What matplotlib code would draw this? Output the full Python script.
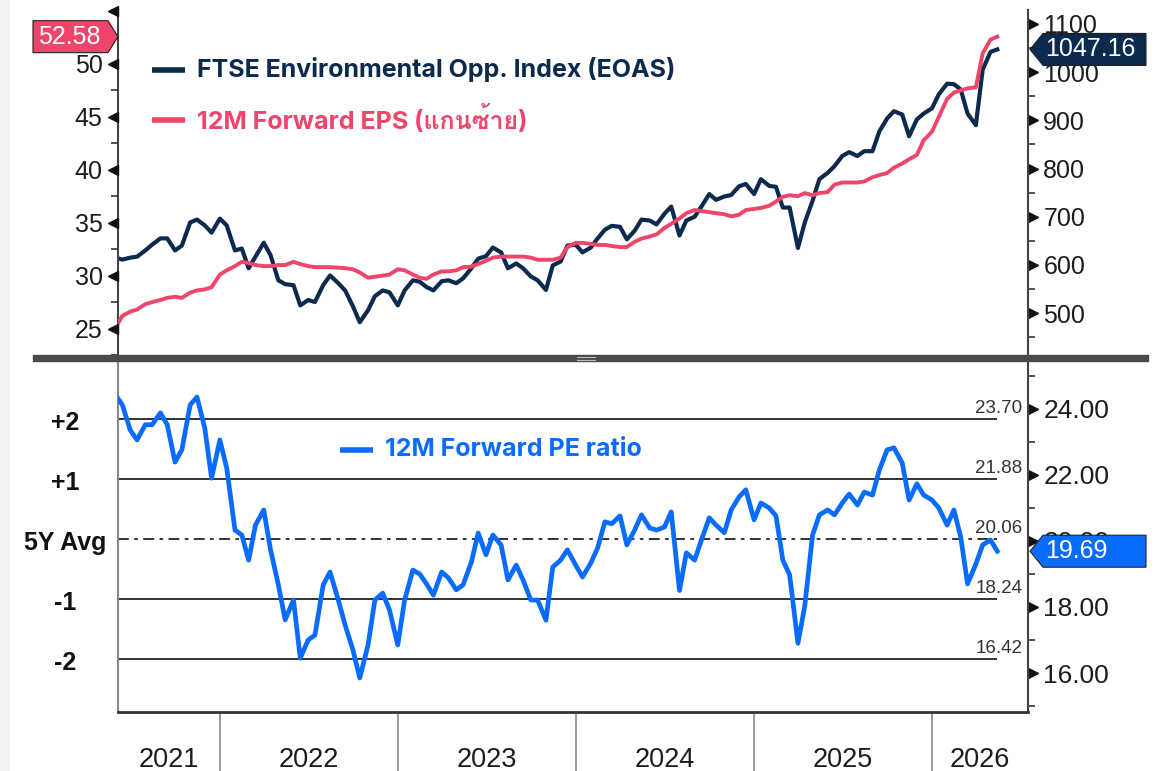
import matplotlib
matplotlib.use("Agg")
import matplotlib.pyplot as plt
import matplotlib.dates as mdates
import matplotlib.transforms as mtransforms
from matplotlib import font_manager
from matplotlib.ft2font import FT2Font
from matplotlib.lines import Line2D
from matplotlib.patches import Polygon, Rectangle
import pandas as pd

# semi-monthly readings, Jun 2021 .. May 2026
dates = pd.date_range("2021-06-01", "2026-05-15", freq="SMS")

index_vals = [
    615, 611, 615, 617, 630, 642, 655, 655, 630, 640,
    688, 694, 682, 667, 696, 682, 630, 634, 593, 617,
    646, 620, 568, 560, 558, 516, 527, 523, 558, 578,
    562, 547, 514, 481, 506, 535, 547, 543, 516, 547,
    568, 565, 554,
    547, 566, 568, 562, 572, 593, 613, 618, 636, 626,
    593, 603, 593, 576, 568, 548, 599, 607, 640, 642,
    626, 636, 655, 673, 681, 679, 653, 671, 694, 692,
    684, 706, 721, 661, 692, 700, 721, 747, 735, 742,
    745, 763, 768, 747, 778, 764, 762, 719, 719, 635,
    688, 733, 778, 791, 805, 826, 834, 826, 836, 836,
    877, 904, 919, 912, 867, 902, 914, 925, 954, 976,
    975, 964, 914, 890, 1005, 1042, 1047.16,
]

eps_vals = [
    25.1, 26.2, 26.6, 26.8, 27.3, 27.5, 27.7, 27.9, 28.0, 27.9,
    28.4, 28.6, 28.7, 28.9, 30.1, 30.5, 30.9, 31.3, 31.2, 31.0,
    30.9, 30.9, 31.0, 31.0, 31.3, 31.1, 30.9, 30.8, 30.8, 30.8,
    30.75, 30.7, 30.6, 30.3, 29.8, 29.9, 30.0, 30.1, 30.6, 30.5,
    30.1, 29.8, 29.7,
    30.1, 30.4, 30.4, 30.5, 30.8, 30.85, 31.1, 31.4, 31.7, 31.8,
    31.8, 31.8, 31.8, 31.7, 31.5, 31.5, 31.5, 31.7, 32.7, 33.1,
    33.1, 33.0, 32.9, 32.9, 32.8, 32.7, 32.7, 33.2, 33.5, 33.7,
    33.9, 34.5, 34.9, 35.4, 35.9, 36.2, 36.1, 36.0, 35.9, 35.8,
    35.6, 35.75, 36.2, 36.3, 36.4, 36.6, 37.0, 37.45, 37.6, 37.5,
    37.8, 37.6, 37.8, 37.9, 38.6, 38.8, 38.8, 38.8, 38.9, 39.3,
    39.5, 39.7, 40.2, 40.6, 41.0, 41.4, 42.8, 43.6, 45.0, 46.7,
    47.3, 47.5, 47.7, 47.8, 51.0, 52.3, 52.58,
]

pe_vals = [
    24.42, 24.12, 23.36, 23.06, 23.52, 23.52, 23.88, 23.52, 22.39, 22.76,
    24.12, 24.36, 23.42, 21.9, 23.06, 22.21, 20.33, 20.18, 19.42, 20.48,
    20.94, 19.73, 18.67, 17.61, 18.21, 16.45, 17.0, 17.15, 18.67, 19.06,
    18.21, 17.45, 16.70, 15.85, 16.85, 18.21, 18.42, 17.91, 16.85, 18.21,
    19.12, 19.0, 18.7,
    18.36, 19.06, 18.88, 18.52, 18.67, 19.36, 20.24, 19.58, 20.18, 19.88,
    18.82, 19.27, 18.82, 18.21, 18.21, 17.6, 19.21, 19.42, 19.73, 19.27,
    18.91, 19.33, 19.79, 20.58, 20.52, 20.76, 19.88, 20.33, 20.79, 20.39,
    20.33, 20.42, 20.88, 18.5, 19.64, 19.42, 20.03, 20.70, 20.48, 20.25,
    20.94, 21.33, 21.55, 20.64, 21.15, 21.0, 20.76, 19.42, 18.97, 16.9,
    18.03, 20.18, 20.79, 20.94, 20.79, 21.15, 21.42, 21.09, 21.48, 21.39,
    22.15, 22.76, 22.82, 22.36, 21.24, 21.73, 21.39, 21.24, 21.0, 20.48,
    20.94, 20.12, 18.7, 19.3, 19.88, 20.03, 19.69,
]

band_levels = [23.70, 21.88, 20.06, 18.24, 16.42]
band_names = ["+2", "+1", "5Y Avg", "-1", "-2"]
years = [2021, 2022, 2023, 2024, 2025, 2026]

x_start, x_end = pd.Timestamp("2021-06-06"), pd.Timestamp("2026-07-17")

NAVY = "#0b2a4e"
PINK = "#f0456b"
BLUE = "#0a6cff"
TXT = "#1c1c1c"

plt.rcParams["font.family"] = ["Liberation Sans", "DejaVu Sans"]


def font_with(ch):
    for f in font_manager.fontManager.ttflist:
        try:
            if ord(ch) in FT2Font(f.fname).get_charmap():
                return f.name
        except Exception:
            continue
    return None


thai = font_with("ก")
legend_family = ["Inter"] + ([thai] if thai else []) + ["DejaVu Sans"]

W, H = 1160, 771
fig = plt.figure(figsize=(W / 100, H / 100), dpi=100)


def fx(px):
    return px / W


def fy(py):
    return 1 - py / H


ax_idx = fig.add_axes([fx(118), fy(355), 910 / W, 345 / H])
ax_eps = ax_idx.twinx()
ax_pe = fig.add_axes([fx(118), fy(712), 910 / W, 350 / H])

ax_eps.plot(dates, eps_vals, color=PINK, lw=2.8, solid_joinstyle="round")
ax_idx.plot(dates, index_vals, color=NAVY, lw=3.0, solid_joinstyle="round")
ax_pe.plot(dates, pe_vals, color=BLUE, lw=3.4, solid_joinstyle="round", zorder=3)

for ax in (ax_idx, ax_pe):
    ax.set_xlim(x_start, x_end)
    ax.set_xticks([])
ax_idx.set_ylim(413, 1129)
ax_eps.set_ylim(22.55, 55.1)
ax_pe.set_ylim(14.82, 25.42)

# y axes
ax_idx.yaxis.tick_right()
ax_eps.yaxis.tick_left()
ax_pe.yaxis.tick_right()

idx_ticks = list(range(500, 1101, 100))
eps_ticks = [25, 30, 35, 40, 45, 50, 55]
pe_ticks = [16, 18, 20, 22, 24]
ax_idx.set_yticks(idx_ticks)
ax_idx.set_yticks(list(range(450, 1101, 100)), minor=True)
ax_eps.set_yticks(eps_ticks, [str(v) if v < 55 else "" for v in eps_ticks])
ax_eps.set_yticks([22.5, 27.5, 32.5, 37.5, 42.5, 47.5, 52.5], minor=True)
ax_pe.set_yticks(pe_ticks, [f"{v:.2f}" for v in pe_ticks])
ax_pe.set_yticks([15, 17, 19, 21, 23, 25], minor=True)

for ax, size in ((ax_idx, 18), (ax_eps, 18), (ax_pe, 19)):
    ax.tick_params(axis="y", which="major", length=0, pad=11, labelsize=size, labelcolor=TXT)
    ax.tick_params(axis="y", which="minor", length=5, width=1.2, color="#333", direction="out")


def tri_ticks(ax, vals, side):
    base = mtransforms.blended_transform_factory(ax.transAxes, ax.transData)
    if side == "left":
        tr = mtransforms.offset_copy(base, fig=fig, x=-5, y=0, units="dots")
        ax.plot([0] * len(vals), vals, ls="none", marker="<", ms=6.5, color="#111",
                transform=tr, clip_on=False)
    else:
        tr = mtransforms.offset_copy(base, fig=fig, x=5, y=0, units="dots")
        ax.plot([1] * len(vals), vals, ls="none", marker=">", ms=6.5, color="#111",
                transform=tr, clip_on=False)


tri_ticks(ax_eps, eps_ticks, "left")
tri_ticks(ax_idx, idx_ticks, "right")
tri_ticks(ax_pe, pe_ticks, "right")

# spines
for s in ("top", "bottom"):
    ax_idx.spines[s].set_visible(False)
for s in ax_eps.spines.values():
    s.set_visible(False)
ax_idx.spines["left"].set_color("#444")
ax_idx.spines["right"].set_color("#444")
ax_idx.spines["left"].set_linewidth(1.5)
ax_idx.spines["right"].set_linewidth(1.5)
ax_pe.spines["top"].set_visible(False)
ax_pe.spines["left"].set_color("#888")
ax_pe.spines["left"].set_linewidth(1.5)
ax_pe.spines["right"].set_color("#444")
ax_pe.spines["right"].set_linewidth(1.5)
ax_pe.spines["bottom"].set_color("#333")
ax_pe.spines["bottom"].set_linewidth(2)

# separator between panels + left page strip
fig.add_artist(Rectangle((fx(33), fy(361)), (1148 - 33) / W, 6 / H,
                         transform=fig.transFigure, color="#4a4a4a", zorder=5))
for yy in (357, 359.5):
    fig.add_artist(Line2D([fx(577), fx(595)], [fy(yy), fy(yy)], transform=fig.transFigure,
                          color="#bdbdbd", lw=0.8, zorder=6))
fig.add_artist(Rectangle((0, 0), 9 / W, 1, transform=fig.transFigure, color="#f1f1f1", zorder=0))

# sigma bands
for lvl, name in zip(band_levels, band_names):
    style = (0, (6, 3, 2, 3)) if name == "5Y Avg" else "-"
    ax_pe.hlines(lvl, x_start, dates[-1], colors="#222", lw=1.3, linestyles=style, zorder=2)
    lab_tr = mtransforms.offset_copy(
        mtransforms.blended_transform_factory(ax_pe.transAxes, ax_pe.transData),
        fig=fig, x=0, y=2, units="dots")
    ax_pe.text(0.994, lvl, f"{lvl:.2f}", transform=lab_tr, ha="right", va="bottom",
               fontsize=13.5, color="#333", zorder=4)
    side_tr = mtransforms.offset_copy(
        mtransforms.blended_transform_factory(ax_pe.transAxes, ax_pe.transData),
        fig=fig, x=0, y=-4, units="dots")
    ax_pe.text(-0.058, lvl, name, transform=side_tr, ha="center", va="center",
               fontsize=18, fontweight="bold", color="#111", clip_on=False)

# year separators and labels
sep_tr = mtransforms.blended_transform_factory(ax_pe.transData, ax_pe.transAxes)
for yr in years:
    y0 = max(pd.Timestamp(f"{yr}-01-01"), x_start)
    y1 = min(pd.Timestamp(f"{yr + 1}-01-01"), x_end)
    if yr > years[0]:
        ax_pe.add_line(Line2D([y0, y0], [0, -0.2], transform=sep_tr, color="#8a8a8a",
                              lw=1.2, clip_on=False))
    mid = y0 + (y1 - y0) / 2
    ax_pe.text(mid, -0.1, str(yr), transform=sep_tr, ha="center", va="top",
               fontsize=19.5, color=TXT, clip_on=False)

# legends
def legend_entry(x0, y, text, color):
    fig.add_artist(Line2D([fx(x0), fx(x0 + 33)], [fy(y), fy(y)], transform=fig.transFigure,
                          color=color, lw=4, solid_capstyle="butt"))
    fig.text(fx(x0 + 45), fy(y), text, color=color, fontsize=18, fontweight="bold",
             family=legend_family, ha="left", va="center")


legend_entry(152, 70, "FTSE Environmental Opp. Index (EOAS)", NAVY)
legend_entry(152, 120, "12M Forward EPS (แกนซ้าย)", PINK)
legend_entry(340, 450, "12M Forward PE ratio", BLUE)

# last-value boxes
def value_box(ax, val, text, color, side):
    py = H - ax.transData.transform((mdates.date2num(dates[-1]), val))[1]
    h = 16
    if side == "right":
        pts = [(1030, py), (1043, py - h), (1146, py - h), (1146, py + h), (1043, py + h)]
        tx = 1045
    else:
        pts = [(118, py), (108, py - h), (33, py - h), (33, py + h), (108, py + h)]
        tx = 38
    fig.add_artist(Polygon([(fx(a), fy(b)) for a, b in pts], closed=True,
                           transform=fig.transFigure, facecolor=color, edgecolor="#222",
                           lw=0.8, zorder=10))
    fig.text(fx(tx), fy(py), text, color="white", fontsize=18, ha="left", va="center",
             zorder=11)


value_box(ax_eps, eps_vals[-1], f"{eps_vals[-1]:.2f}", PINK, "left")
value_box(ax_idx, index_vals[-1], f"{index_vals[-1]:.2f}", NAVY, "right")
value_box(ax_pe, pe_vals[-1], f"{pe_vals[-1]:.2f}", BLUE, "right")

fig.savefig("out.png", dpi=100)
